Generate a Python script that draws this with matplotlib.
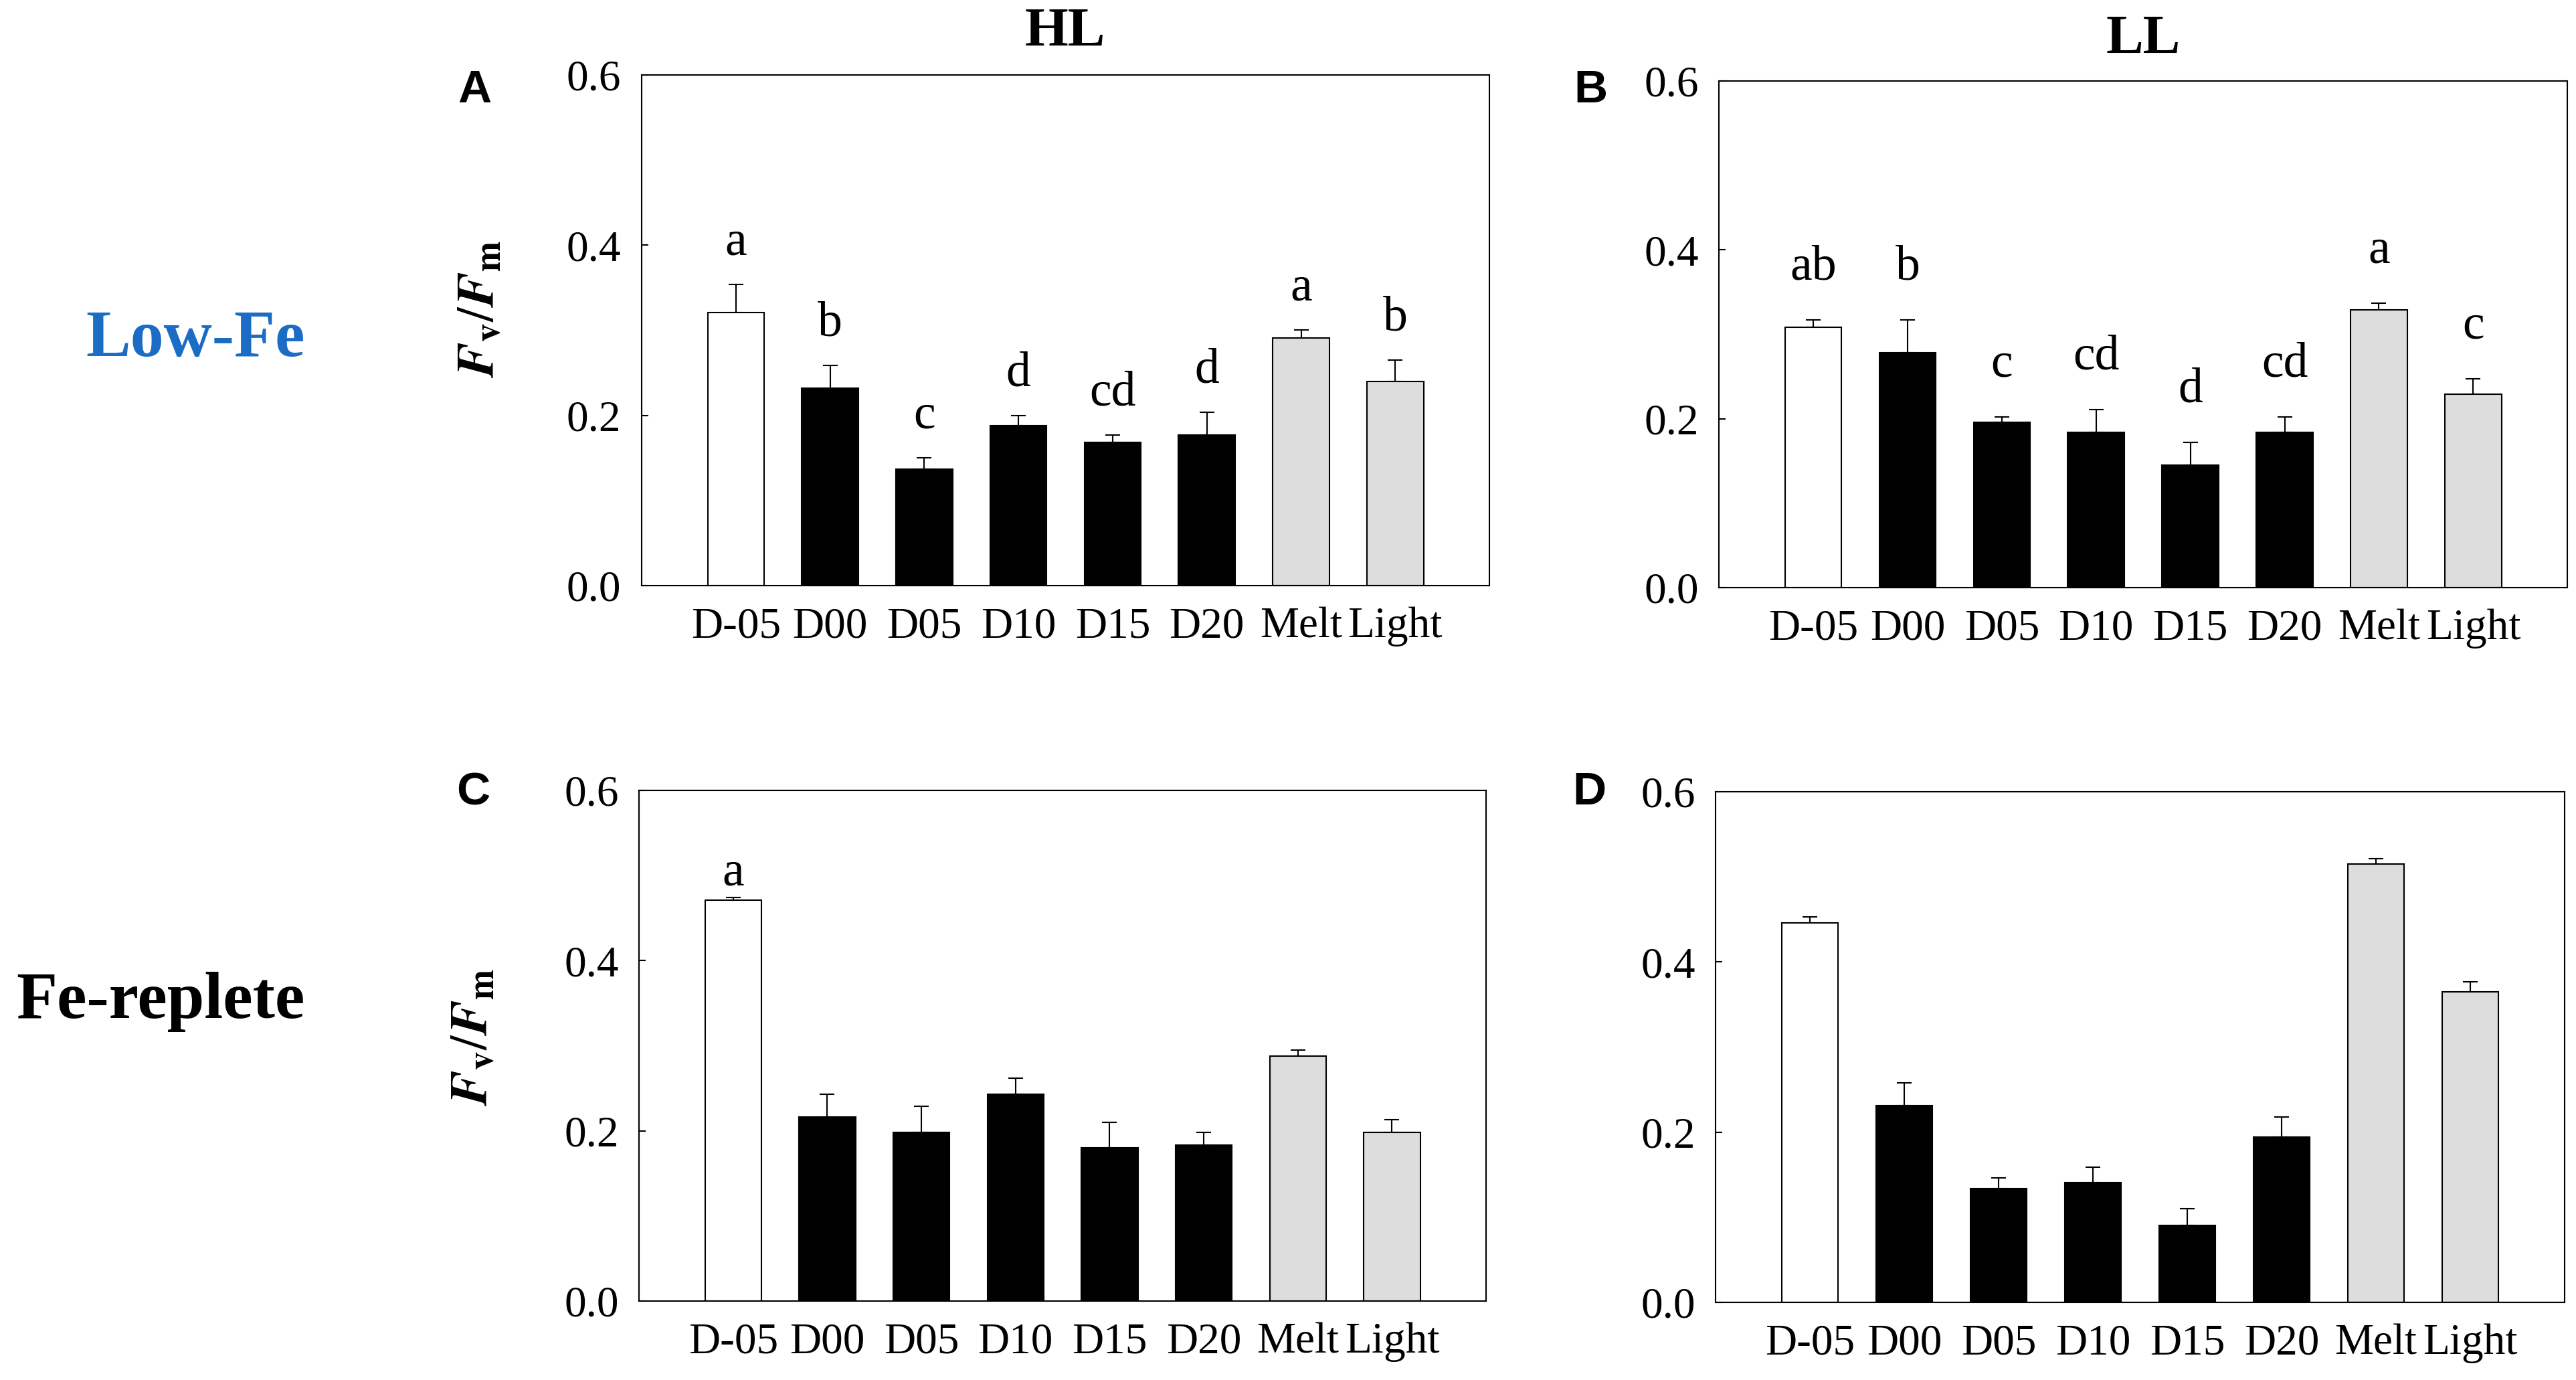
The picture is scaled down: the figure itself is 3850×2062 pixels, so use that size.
import numpy as np
import matplotlib
matplotlib.use('Agg')
import matplotlib.pyplot as plt

plt.rcParams['font.family'] = ['Liberation Serif', 'DejaVu Serif']
plt.rcParams['mathtext.fontset'] = 'stix'

# data (Fv/Fm, mean and upper SD)
categories = ['D-05', 'D00', 'D05', 'D10', 'D15', 'D20', 'Melt', 'Light']
bar_colors = ['white', 'black', 'black', 'black', 'black', 'black', '#dddddd', '#dddddd']

a_mean = [0.321, 0.232, 0.137, 0.188, 0.168, 0.177, 0.291, 0.240]
a_err = [0.033, 0.027, 0.013, 0.012, 0.009, 0.027, 0.009, 0.025]
a_letters = ['a', 'b', 'c', 'd', 'cd', 'd', 'a', 'b']

b_mean = [0.308, 0.278, 0.196, 0.184, 0.145, 0.184, 0.329, 0.229]
b_err = [0.009, 0.039, 0.006, 0.027, 0.027, 0.018, 0.008, 0.018]
b_letters = ['ab', 'b', 'c', 'cd', 'd', 'cd', 'a', 'c']

c_mean = [0.471, 0.216, 0.198, 0.243, 0.180, 0.183, 0.288, 0.198]
c_err = [0.003, 0.027, 0.031, 0.019, 0.030, 0.015, 0.007, 0.015]
c_letters = ['a', '', '', '', '', '', '', '']

d_mean = [0.446, 0.231, 0.134, 0.141, 0.090, 0.194, 0.515, 0.365]
d_err = [0.007, 0.027, 0.012, 0.018, 0.020, 0.024, 0.006, 0.012]
d_letters = ['', '', '', '', '', '', '', '']

yticks = [0.0, 0.2, 0.4, 0.6]

fig = plt.figure(figsize=(38.5, 20.62), dpi=100)

panels = [
    ([0.2491, 0.5757, 0.3291, 0.3700], a_mean, a_err, a_letters, 0.035),
    ([0.6673, 0.5742, 0.3294, 0.3671], b_mean, b_err, b_letters, 0.048),
    ([0.2481, 0.0572, 0.3288, 0.3700], c_mean, c_err, c_letters, 0.015),
    ([0.6660, 0.0563, 0.3296, 0.3700], d_mean, d_err, d_letters, 0.03),
]

x = np.arange(len(categories))
for rect, mean, err, letters, off in panels:
    ax = fig.add_axes(rect)
    ax.bar(x, mean, width=0.6, color=bar_colors, edgecolor='black', linewidth=1.5, zorder=2)
    ax.errorbar(x, mean, yerr=[np.zeros(len(err)), err], fmt='none', ecolor='black',
                elinewidth=1.5, capsize=8, capthick=1.5, zorder=1)
    for i, lab in enumerate(letters):
        if lab:
            ax.text(x[i], mean[i] + err[i] + off, lab, ha='center', va='baseline', fontsize=53)
    ax.set_xlim(-1.0, 8.0)
    ax.set_ylim(0, 0.6)
    ax.set_yticks(yticks)
    ax.set_yticklabels([f'{v:.1f}' for v in yticks])
    ax.set_xticks(x)
    ax.set_xticklabels(categories)
    ax.tick_params(axis='y', direction='in', length=7, width=1.5, pad=22, labelsize=47)
    ax.tick_params(axis='x', length=0, pad=23, labelsize=47)
    for sp in ax.spines.values():
        sp.set_linewidth(1.5)

# y-axis labels (only left column)
ylab = r'$\mathbfit{F}_{\mathbf{v}}/\mathbfit{F}_{\mathbf{m}}$'
fig.text(0.1868, 0.776, ylab, rotation=90, ha='center', va='center', fontsize=56)
fig.text(0.1844, 0.2483, ylab, rotation=90, ha='center', va='center', fontsize=56)

# column titles
fig.text(0.4135, 0.967, 'HL', ha='center', va='baseline', fontsize=60, fontweight='bold')
fig.text(0.832, 0.9617, 'LL', ha='center', va='baseline', fontsize=60, fontweight='bold')

# row labels
fig.text(0.1184, 1 - 532 / 2062, 'Low-Fe', ha='right', va='baseline', fontsize=72,
         fontweight='bold', color='#1b6cc4')
fig.text(0.1184, 1 - 1521 / 2062, 'Fe-replete', ha='right', va='baseline', fontsize=72,
         fontweight='bold', color='black')

# panel letters
for lab, px, py in [('A', 0.1842, 0.9258), ('B', 0.6174, 0.9258),
                    ('C', 0.1836, 0.417), ('D', 0.6171, 0.417)]:
    fig.text(px, py, lab, ha='center', va='baseline', fontsize=50, fontweight='bold',
             family='Liberation Sans')

fig.savefig('out.png', dpi=100)
